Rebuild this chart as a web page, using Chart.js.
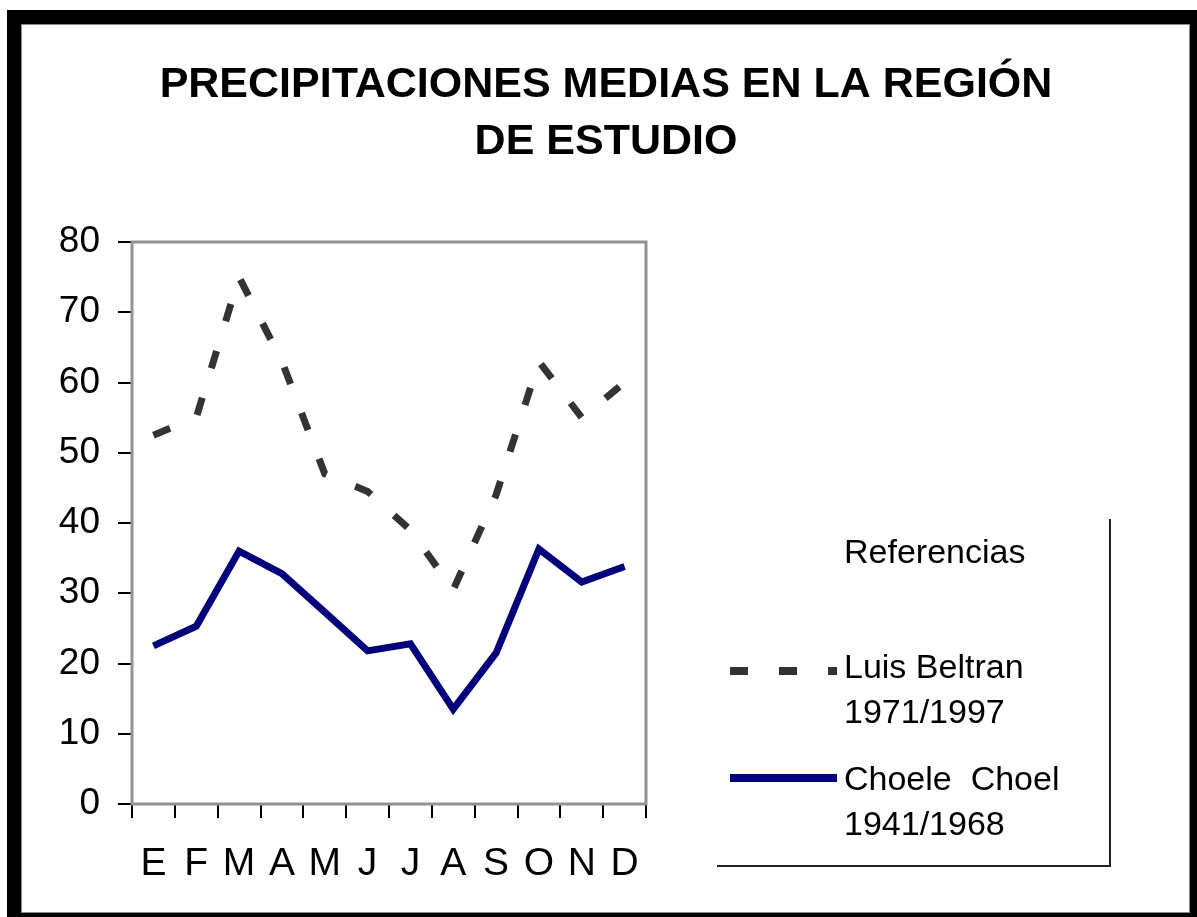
<!DOCTYPE html>
<html>
<head>
<meta charset="utf-8">
<script src="https://cdn.jsdelivr.net/npm/chart.js@4.4.1/dist/chart.umd.min.js"></script>
<style>
  html, body { margin: 0; padding: 0; background: #fff; overflow: hidden; }
  body { width: 1197px; height: 917px; position: relative; }
  .marco {
    position: absolute; left: 7px; top: 10px; width: 1197px; height: 917px;
    box-sizing: border-box; border: 14px solid #000;
    box-shadow: inset 0 0 0 1px #8a8a8a;
  }
  #grafico { position: absolute; left: 0; top: 0; }
</style>
</head>
<body>
<div class="marco"></div>
<canvas id="grafico" width="1197" height="917"></canvas>
<script>
const meses = ["E", "F", "M", "A", "M", "J", "J", "A", "S", "O", "N", "D"];
const luisBeltran = [52.5, 55, 75, 63, 47, 44.5, 39, 30.5, 44, 63, 55, 60];
const choeleChoel = [22.5, 25.3, 36, 32.8, 27.3, 21.8, 22.8, 13.5, 21.5, 36.3, 31.6, 33.8];
const tituloLineas = ["PRECIPITACIONES MEDIAS EN LA REGIÓN", "DE ESTUDIO"];
const leyendaTitulo = "Referencias";
const leyendaLuis = ["Luis Beltran", "1971/1997"];
const leyendaChoele = ["Choele  Choel", "1941/1968"];

const fuente = "'Liberation Sans', Arial, sans-serif";

// titulo centrado sobre toda la hoja, no solo sobre el area del grafico
const tituloPlugin = {
  id: "tituloPlugin",
  afterDraw(chart) {
    const ctx = chart.ctx;
    ctx.save();
    ctx.fillStyle = "#000";
    ctx.font = "bold 43px " + fuente;
    ctx.textAlign = "center";
    ctx.textBaseline = "alphabetic";
    ctx.fillText(tituloLineas[0], 606, 97);
    ctx.fillText(tituloLineas[1], 606, 154);
    ctx.restore();
  }
};

// marco gris del area de trazado
const marcoPlugin = {
  id: "marcoPlugin",
  beforeDatasetsDraw(chart) {
    const { ctx, chartArea } = chart;
    ctx.save();
    ctx.strokeStyle = "#929292";
    ctx.lineWidth = 3;
    ctx.strokeRect(chartArea.left, chartArea.top, chartArea.right - chartArea.left, chartArea.bottom - chartArea.top);
    ctx.restore();
  }
};

// cuadro de referencias con solo los bordes derecho e inferior
const leyendaPlugin = {
  id: "leyendaPlugin",
  afterDraw(chart) {
    const ctx = chart.ctx;
    const ds = chart.data.datasets;
    ctx.save();
    ctx.strokeStyle = "#222";
    ctx.lineWidth = 2;
    ctx.beginPath();
    ctx.moveTo(1110, 519);
    ctx.lineTo(1110, 866);
    ctx.lineTo(717, 866);
    ctx.stroke();

    ctx.fillStyle = "#000";
    ctx.font = "34px " + fuente;
    ctx.textAlign = "left";
    ctx.textBaseline = "alphabetic";
    ctx.fillText(leyendaTitulo, 844, 563);

    const muestras = [
      { d: ds[0], y: 671, textos: leyendaLuis, base: 678 },
      { d: ds[1], y: 778, textos: leyendaChoele, base: 790 }
    ];
    muestras.forEach((m) => {
      ctx.save();
      ctx.strokeStyle = m.d.borderColor;
      ctx.lineWidth = 8;
      ctx.lineCap = "butt";
      ctx.setLineDash(m.d.borderDash || []);
      ctx.beginPath();
      ctx.moveTo(730, m.y);
      ctx.lineTo(837, m.y);
      ctx.stroke();
      ctx.restore();
      ctx.fillText(m.textos[0], 844, m.base);
      ctx.fillText(m.textos[1], 844, m.base + 45);
    });
    ctx.restore();
  }
};

new Chart(document.getElementById("grafico"), {
  type: "line",
  data: {
    labels: meses,
    datasets: [
      {
        label: leyendaLuis.join(" "),
        data: luisBeltran,
        borderColor: "#333333",
        borderWidth: 7,
        borderDash: [18, 31],
        pointRadius: 0,
        tension: 0,
        fill: false
      },
      {
        label: leyendaChoele.join(" "),
        data: choeleChoel,
        borderColor: "#000080",
        borderWidth: 7,
        pointRadius: 0,
        tension: 0,
        fill: false
      }
    ]
  },
  options: {
    responsive: false,
    animation: false,
    devicePixelRatio: 1,
    layout: { padding: { top: 242, right: 551, bottom: 0, left: 0 } },
    plugins: {
      legend: { display: false },
      title: { display: false },
      tooltip: { enabled: false }
    },
    scales: {
      x: {
        offset: true,
        afterFit: (scale) => { scale.height = 113; },
        grid: {
          offset: true,
          drawOnChartArea: false,
          drawTicks: true,
          tickLength: 14,
          color: "#000",
          lineWidth: 2
        },
        border: { display: false },
        ticks: {
          color: "#000",
          padding: 23,
          maxRotation: 0,
          autoSkip: false,
          font: { family: fuente, size: 39 }
        }
      },
      y: {
        min: 0,
        max: 80,
        afterFit: (scale) => { scale.width = 132; },
        grid: {
          drawOnChartArea: false,
          drawTicks: true,
          tickLength: 14,
          color: "#000",
          lineWidth: 2
        },
        border: { display: false },
        ticks: {
          stepSize: 10,
          color: "#000",
          padding: 18,
          font: { family: fuente, size: 37 }
        }
      }
    }
  },
  plugins: [marcoPlugin, tituloPlugin, leyendaPlugin]
});
</script>
</body>
</html>
